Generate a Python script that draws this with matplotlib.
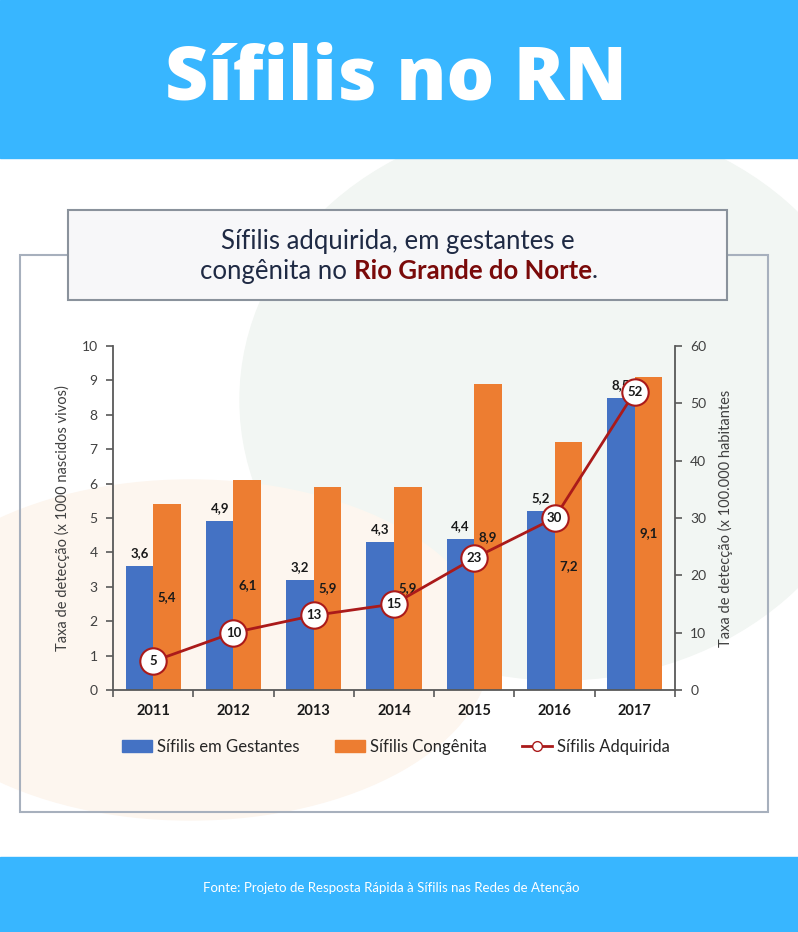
import matplotlib
matplotlib.use("Agg")
import matplotlib.pyplot as plt
import numpy as np
from matplotlib.patches import Rectangle, Ellipse, Patch
from matplotlib.lines import Line2D

plt.rcParams["font.family"] = ["Lato", "DejaVu Sans"]

years = ["2011", "2012", "2013", "2014", "2015", "2016", "2017"]
gestantes = [3.6, 4.9, 3.2, 4.3, 4.4, 5.2, 8.5]
congenita = [5.4, 6.1, 5.9, 5.9, 8.9, 7.2, 9.1]
adquirida = [5, 10, 13, 15, 23, 30, 52]

blue = "#4472c4"
orange = "#ed7d31"
red = "#aa1a1a"
banner = "#38b6ff"
axis_col = "#595959"

W, H = 798, 932
fig = plt.figure(figsize=(W / 100, H / 100), dpi=100)
fig.patch.set_facecolor("white")


def fx(px):
    return px / W


def fy(py):
    return 1 - py / H


# soft background blobs
bg = fig.add_axes([0, 0, 1, 1], zorder=-10)
bg.set_xlim(0, W)
bg.set_ylim(H, 0)
bg.axis("off")
bg.add_patch(Ellipse((560, 400), 640, 560, color="#f2f6f3", zorder=0))
bg.add_patch(Ellipse((190, 650), 600, 340, color="#fdf6ef", zorder=1))

# banners
bg.add_patch(Rectangle((0, 0), W, 158, color=banner, zorder=5))
bg.add_patch(Rectangle((0, 857), W, H - 857, color=banner, zorder=5))

# chart frame and title box
bg.add_patch(Rectangle((20, 255), 748, 557, facecolor="none",
                       edgecolor="#a7b0bd", lw=1.5, zorder=6))
bg.add_patch(Rectangle((68, 210), 659, 90, facecolor="#f7f7f9",
                       edgecolor="#8a929c", lw=1.5, zorder=7))

fig.text(0.496, fy(80), "Sífilis no RN", color="white", fontsize=54,
         fontweight="heavy", ha="center", va="center", family=["Open Sans", "DejaVu Sans"])
fig.text(0.49, fy(888), "Fonte: Projeto de Resposta Rápida à Sífilis nas Redes de Atenção",
         color="white", fontsize=9.5, ha="center", va="center")

# title box text
navy = "#1f2a44"
fig.text(0.499, fy(242), "Sífilis adquirida, em gestantes e", color=navy,
         fontsize=18.5, ha="center", va="center")
renderer = fig.canvas.get_renderer()
parts = [("congênita no ", navy, "normal"), ("Rio Grande do Norte", "#7a0a0a", "bold"),
         (".", navy, "normal")]
texts = []
for s, c, w in parts:
    t = fig.text(0, fy(271), s, color=c, fontsize=18.5, fontweight=w, ha="left", va="center")
    texts.append(t)
widths = [t.get_window_extent(renderer).width for t in texts]
x0 = W / 2 - sum(widths) / 2
for t, w in zip(texts, widths):
    t.set_x(x0 / W)
    x0 += w

# main chart
ax = fig.add_axes([fx(113), fy(690), fx(675 - 113), (690 - 346) / H])
ax.patch.set_alpha(0)
x = np.arange(len(years))
bw = 0.343
ax.bar(x - bw / 2, gestantes, bw, color=blue, zorder=2)
ax.bar(x + bw / 2, congenita, bw, color=orange, zorder=2)
ax.set_xlim(-0.5, 6.5)
ax.set_ylim(0, 10)
ax.set_yticks(range(0, 11))
for xi, v in zip(x, gestantes):
    ax.annotate(f"{v:.1f}".replace(".", ","), (xi - bw / 2, v), xytext=(0, 5),
                textcoords="offset points", ha="center", va="bottom",
                fontsize=9.5, fontweight="bold", color="#1a1a1a", zorder=3)
for xi, v in zip(x, congenita):
    ax.text(xi + bw / 2, v / 2, f"{v:.1f}".replace(".", ","), ha="center",
            va="center", fontsize=9.5, fontweight="bold", color="#1a1a1a", zorder=3)

ax.set_xticks(np.arange(-0.5, 7, 1))
ax.set_xticklabels([])
ax.set_xticks(x, minor=True)
ax.set_xticklabels(years, minor=True, fontweight="bold", fontsize=10.5, color="#1a1a1a")
ax.tick_params(axis="x", which="minor", length=0, pad=10)
ax.tick_params(axis="x", which="major", length=5, color=axis_col, width=1.2)
ax.tick_params(axis="y", length=5, color=axis_col, width=1.2, labelsize=10,
               labelcolor="#404040", pad=6)
ax.spines["top"].set_visible(False)
ax.spines["right"].set_visible(False)
for s in ["left", "bottom"]:
    ax.spines[s].set_color(axis_col)
    ax.spines[s].set_linewidth(1.3)
ax.set_ylabel("Taxa de detecção (x 1000 nascidos vivos)", fontsize=10.5,
              color="#404040", labelpad=8)

ax2 = ax.twinx()
ax2.set_ylim(0, 60)
ax2.set_yticks(range(0, 61, 10))
ax2.plot(x, adquirida, color=red, lw=2, marker="o", ms=19, mfc="white",
         mec=red, mew=1.5, zorder=5)
for xi, v in zip(x, adquirida):
    ax2.text(xi, v, str(v), ha="center", va="center", fontsize=9.5,
             fontweight="bold", color="#1a1a1a", zorder=6)
ax2.spines["top"].set_visible(False)
ax2.spines["left"].set_visible(False)
ax2.spines["bottom"].set_visible(False)
ax2.spines["right"].set_color(axis_col)
ax2.spines["right"].set_linewidth(1.3)
ax2.tick_params(axis="y", length=5, color=axis_col, width=1.2, labelsize=10,
                labelcolor="#404040", pad=6)
ax2.set_ylabel("Taxa de detecção (x 100.000 habitantes", fontsize=10.5,
               color="#404040", rotation=90, labelpad=8)

handles = [Patch(color=blue), Patch(color=orange),
           Line2D([], [], color=red, lw=2, marker="o", ms=7, mfc="white", mec=red)]
fig.legend(handles, ["Sífilis em Gestantes", "Sífilis Congênita", "Sífilis Adquirida"],
           loc="center", bbox_to_anchor=(fx(396), fy(747)), ncol=3, frameon=False,
           fontsize=12, handlelength=1.8, handletextpad=0.3, columnspacing=2.1,
           labelcolor="#262626")

fig.savefig("out.png", dpi=100)
